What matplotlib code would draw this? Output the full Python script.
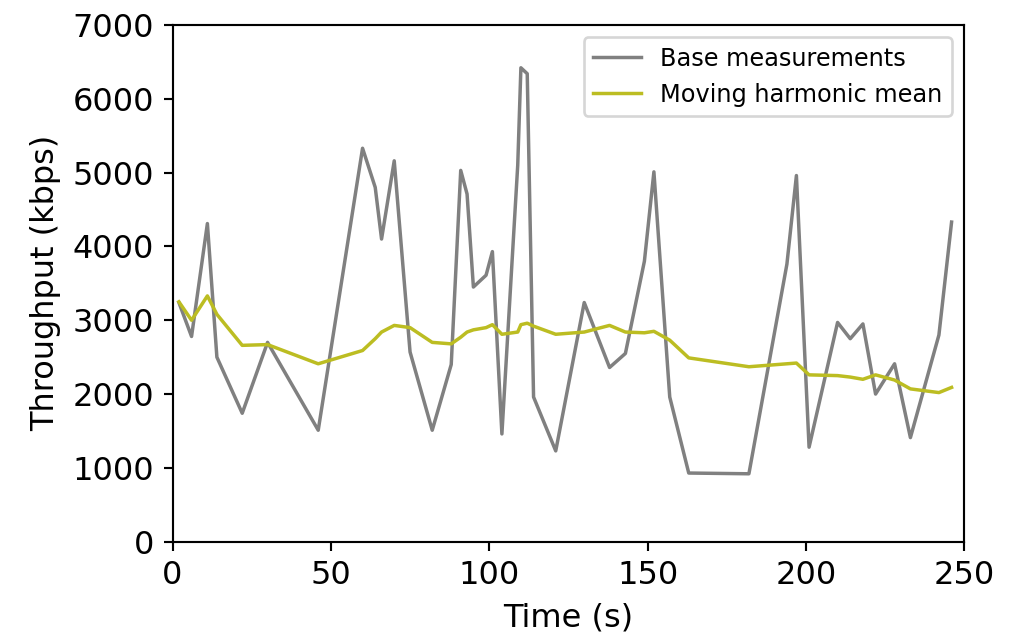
import matplotlib
matplotlib.use("Agg")
import matplotlib.pyplot as plt

# time stamps (s)
times = [2, 6, 11, 14, 22, 30, 46, 60, 64, 66, 70, 75, 82, 88, 91, 93, 95, 99,
         101, 104, 109, 110, 112, 114, 121, 130, 138, 143, 149, 152, 157, 163,
         182, 194, 197, 201, 210, 214, 218, 222, 228, 233, 242, 246]

# throughput samples (kbps)
base = [3240, 2780, 4310, 2500, 1740, 2700, 1510, 5330, 4800, 4100, 5160, 2570,
        1510, 2400, 5030, 4710, 3450, 3610, 3930, 1460, 5100, 6420, 6340, 1960,
        1230, 3240, 2360, 2550, 3800, 5010, 1960, 930, 920, 3760, 4960, 1280,
        2970, 2750, 2950, 2000, 2410, 1410, 2800, 4330]

harmonic = [3250, 3000, 3330, 3080, 2660, 2670, 2410, 2590, 2750, 2840, 2930,
            2900, 2700, 2680, 2770, 2840, 2870, 2900, 2940, 2810, 2840, 2940,
            2960, 2920, 2810, 2840, 2930, 2840, 2830, 2850, 2730, 2490, 2370,
            2410, 2420, 2260, 2250, 2230, 2200, 2260, 2190, 2070, 2020, 2090]

fig = plt.figure(figsize=(1015 / 192, 634 / 192), dpi=192)
ax = fig.add_axes([0.170, 0.1456, 0.780, 0.815])

ax.plot(times, base, color="grey", linewidth=1.3, label="Base measurements")
ax.plot(times, harmonic, color="#bcbd22", linewidth=1.3, label="Moving harmonic mean")

ax.set_xlim(0, 250)
ax.set_ylim(0, 7000)
ax.set_xlabel("Time (s)", fontsize=12)
ax.set_ylabel("Throughput (kbps)", fontsize=12)
ax.tick_params(labelsize=12)
ax.legend(loc="upper right", fontsize=9)

fig.savefig("out.png", dpi=192)
